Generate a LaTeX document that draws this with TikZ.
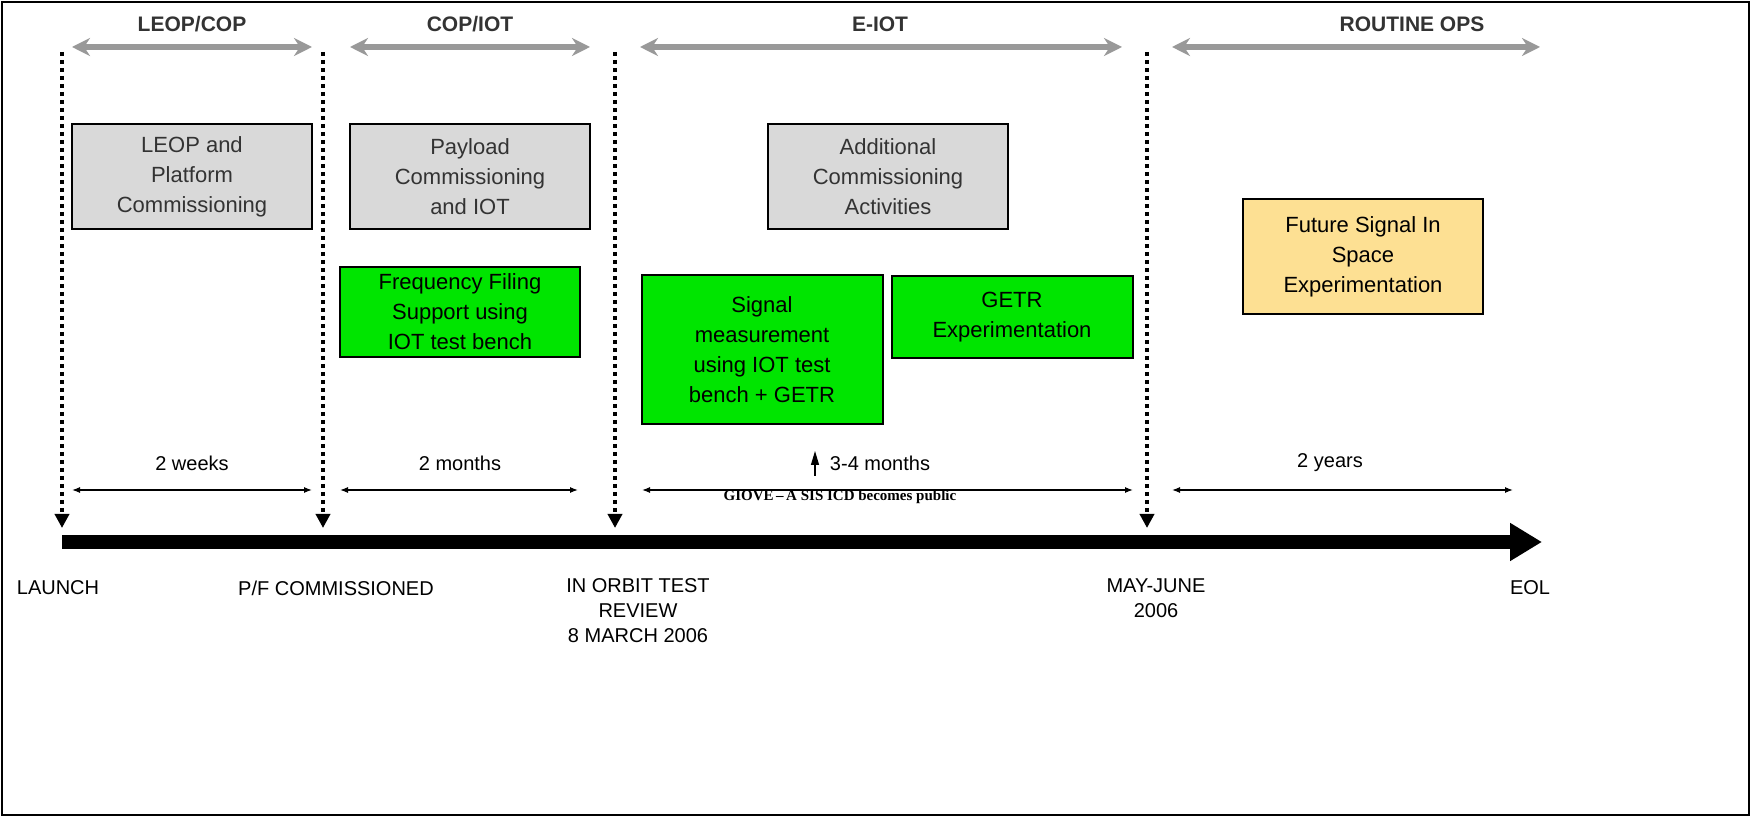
\documentclass[tikz,border=0pt]{standalone}
\usepackage{fontspec}
\setmainfont{Liberation Sans}
\newfontfamily\serifsmall{Liberation Serif}
\usetikzlibrary{arrows.meta}
\begin{document}
\begin{tikzpicture}[x=0.5pt,y=-0.5pt,
  lbl/.style={font=\fontsize{10}{12.5}\selectfont,align=center,inner sep=0pt},
  head/.style={font=\bfseries\fontsize{10.5}{12}\selectfont,text=black!80,inner sep=0pt},
  greybox/.style={draw,line width=1pt,fill=gray!30,font=\fontsize{11}{15}\selectfont,align=center,text=black!80},
  greenbox/.style={draw,line width=1pt,fill=green!90!black,font=\fontsize{11}{15}\selectfont,align=center},
  yelbox/.style={draw,line width=1pt,fill=yellow!45!orange!40,font=\fontsize{11}{15}\selectfont,align=center},
  phase/.style={gray!80,line width=3pt,{Stealth[length=9pt,width=9pt]}-{Stealth[length=9pt,width=9pt]}},
  dur/.style={line width=0.6pt,{Latex[length=4pt]}-{Latex[length=4pt]}},
  vdot/.style={line width=2pt,dotted,-{Triangle[length=7pt,width=7pt]}}]
\useasboundingbox (0,0) rectangle (1751,817);
\draw[line width=1pt] (2,2) rectangle (1749,815);
% phases
\node[head] (h1) at (192,24) {LEOP/COP};
\node[head] (h2) at (470,24) {COP/IOT};
\node[head] (h3) at (880,24) {E-IOT};
\node[head] (h4) at (1412,24) {ROUTINE OPS};
\coordinate (p1a) at (72,47); \coordinate (p1b) at (312,47);
\coordinate (p2a) at (350,47); \coordinate (p2b) at (590,47);
\coordinate (p3a) at (640,47); \coordinate (p3b) at (1122,47);
\coordinate (p4a) at (1172,47); \coordinate (p4b) at (1540,47);
\draw[phase] (p1a) -- (p1b);
\draw[phase] (p2a) -- (p2b);
\draw[phase] (p3a) -- (p3b);
\draw[phase] (p4a) -- (p4b);
% milestones
\foreach \n/\x in {m1/62,m2/323,m3/615,m4/1147}{
  \coordinate (\n t) at (\x,52); \coordinate (\n b) at (\x,528);
  \draw[vdot] (\n t) -- (\n b);}
% boxes
\node[greybox,minimum width=120pt,minimum height=52.5pt] (b1) at (192,177) {LEOP and\\Platform\\Commissioning};
\node[greybox,minimum width=120pt,minimum height=52.5pt] (b2) at (470,177) {Payload\\Commissioning\\and IOT};
\node[greybox,minimum width=120pt,minimum height=52.5pt] (b3) at (888,177) {Additional\\Commissioning\\Activities};
\node[greenbox,minimum width=120pt,minimum height=42.5pt] (g1) at (460,312) {Frequency Filing\\Support using\\IOT test bench};
\node[greenbox,minimum width=120.5pt,minimum height=74.5pt] (g2) at (762,350) {Signal\\measurement\\using IOT test\\bench + GETR};
\node[greenbox,minimum width=120.5pt,minimum height=41pt] (g3) at (1012,317) {GETR\\Experimentation};
\node[yelbox,minimum width=120pt,minimum height=57.5pt] (y1) at (1363,257) {Future Signal In\\Space\\Experimentation};
% durations
\foreach \n/\a/\b/\t/\tx in {d1/72/312/2 weeks/192,d2/340/578/2 months/460,d3/642/1133/3-4 months/880,d4/1172/1513/2 years/1330}{
  \coordinate (\n a) at (\a,490); \coordinate (\n b) at (\b,490);
  \draw[dur] (\n a) -- (\n b);
  \node[lbl] (\n l) at (\tx,463) {\t};}
\coordinate (ua) at (815,476); \coordinate (ub) at (815,451);
\draw[line width=0.6pt,-{Triangle[length=7pt,width=4pt]}] (ua) -- (ub);
\node[font=\serifsmall\bfseries\fontsize{7.5}{9}\selectfont,inner sep=0pt] (gio) at (840,497) {GIOVE\,–\,A SIS ICD becomes public};
% timeline
\coordinate (ta) at (62,542); \coordinate (tb) at (1542,542);
\draw[line width=7pt,-{Triangle[length=16pt,width=18pt]}] (ta) -- (tb);
\node[lbl] (l1) at (58,588) {LAUNCH};
\node[lbl] (l2) at (336,588) {P/F COMMISSIONED};
\node[lbl,anchor=north] (l3) at (638,578) {IN ORBIT TEST\\REVIEW\\8 MARCH 2006};
\node[lbl,anchor=north] (l4) at (1156,578) {MAY-JUNE\\2006};
\node[lbl] (l5) at (1530,588) {EOL};
\end{tikzpicture}
\end{document}
